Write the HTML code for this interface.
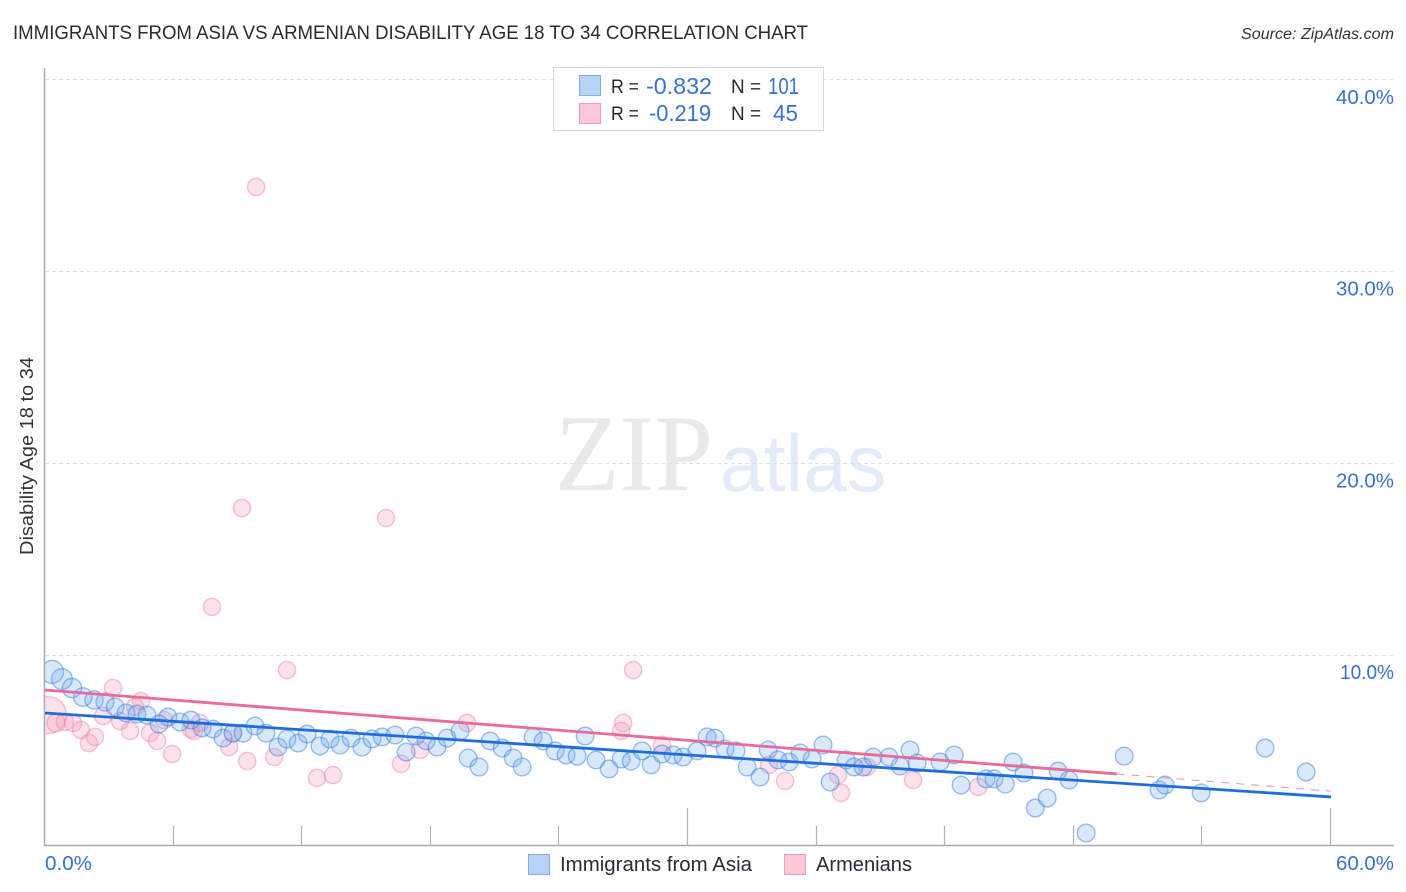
<!DOCTYPE html>
<html lang="en">
<head>
<meta charset="utf-8">
<title>Immigrants from Asia vs Armenian Disability Age 18 to 34 Correlation Chart</title>
<style>
html,body{margin:0;padding:0;background:#fff;width:1406px;height:892px;overflow:hidden}
svg{display:block;font-family:"Liberation Sans",sans-serif}
</style>
</head>
<body>
<svg id="chart" xmlns="http://www.w3.org/2000/svg" width="1406" height="892" viewBox="0 0 1406 892">
  <defs><clipPath id="plot-clip"><rect x="45" y="60" width="1349" height="786"/></clipPath></defs>
  <text x="13" y="39" font-size="19.5" fill="#2b2b2b" textLength="795" lengthAdjust="spacingAndGlyphs">IMMIGRANTS FROM ASIA VS ARMENIAN DISABILITY AGE 18 TO 34 CORRELATION CHART</text>
  <text x="1241" y="39" font-size="15.5" font-style="italic" fill="#333" textLength="153" lengthAdjust="spacingAndGlyphs">Source: ZipAtlas.com</text>

  <g>
    <text x="555" y="490" font-family="'Liberation Serif',serif" font-size="109" fill="#e9e9e9" textLength="158" lengthAdjust="spacingAndGlyphs">ZIP</text>
    <text x="720" y="491" font-size="81" fill="#e2ebf9" textLength="166" lengthAdjust="spacingAndGlyphs">atlas</text>
  </g>

  <g id="grid"></g>
  <g id="axes"></g>
  <g id="armenians-points" clip-path="url(#plot-clip)"></g>
  <g id="asia-points" clip-path="url(#plot-clip)"></g>
  <g id="trends"></g>
  <g id="labels"></g>

  <text transform="translate(33,555) rotate(-90)" font-size="18" fill="#333" textLength="198" lengthAdjust="spacingAndGlyphs">Disability Age 18 to 34</text>

  <g>
    <rect x="553.5" y="67.5" width="270" height="63" fill="#fff" stroke="#d8d8d8" stroke-width="1"/>
    <rect x="579.5" y="75.5" width="21" height="20" fill="#b9d3f6" stroke="#7fabe6"/>
    <text x="611" y="93" font-size="19.5" fill="#2b2b2b" textLength="28" lengthAdjust="spacingAndGlyphs">R =</text>
    <text x="646" y="94" font-size="23" fill="#3a70d2" textLength="66" lengthAdjust="spacingAndGlyphs">-0.832</text>
    <text x="731" y="93" font-size="19.5" fill="#2b2b2b" textLength="30" lengthAdjust="spacingAndGlyphs">N =</text>
    <text x="768" y="94" font-size="23" fill="#3a70d2" textLength="31" lengthAdjust="spacingAndGlyphs">101</text>
    <rect x="579.5" y="103.5" width="21" height="20" fill="#fcc8d8" stroke="#ee9db8"/>
    <text x="611" y="120" font-size="19.5" fill="#2b2b2b" textLength="28" lengthAdjust="spacingAndGlyphs">R =</text>
    <text x="649" y="121" font-size="23" fill="#3a70d2" textLength="62" lengthAdjust="spacingAndGlyphs">-0.219</text>
    <text x="731" y="120" font-size="19.5" fill="#2b2b2b" textLength="30" lengthAdjust="spacingAndGlyphs">N =</text>
    <text x="773" y="121" font-size="23" fill="#3a70d2" textLength="25" lengthAdjust="spacingAndGlyphs">45</text>
  </g>

  <g>
    <rect x="528.5" y="854.5" width="21" height="20" fill="#b9d3f6" stroke="#7fabe6"/>
    <text x="560" y="871" font-size="20" fill="#2b2b3b" textLength="192" lengthAdjust="spacingAndGlyphs">Immigrants from Asia</text>
    <rect x="784.5" y="854.5" width="21" height="20" fill="#fcc8d8" stroke="#ee9db8"/>
    <text x="816" y="871" font-size="20" fill="#2b2b3b" textLength="96" lengthAdjust="spacingAndGlyphs">Armenians</text>
  </g>
</svg>
<script>
const yTicks = [10, 20, 30, 40];
const yTickLabels = ["10.0%", "20.0%", "30.0%", "40.0%"];
const xTicks = [0, 6, 12, 18, 24, 30, 36, 42, 48, 54, 60];
const xMajorTicks = [30, 60];
const xEndValues = [0, 60];
const xEndLabels = ["0.0%", "60.0%"];

const asiaX = [0.33,0.79,1.26,1.77,2.29,2.80,3.27,3.78,4.29,4.76,5.74,5.32,6.30,6.81,7.33,7.84,8.31,8.77,9.24,9.80,10.31,10.87,11.29,11.81,12.23,12.83,13.30,13.77,14.28,14.79,15.26,15.73,16.33,16.85,17.31,17.78,18.29,18.76,19.37,19.74,20.25,20.77,21.33,21.84,22.26,22.77,23.24,23.80,24.31,24.83,25.20,25.71,26.32,26.88,27.35,27.86,28.28,28.79,29.31,29.77,30.42,30.89,31.26,31.73,32.24,32.76,33.36,33.74,34.20,34.72,35.23,35.79,36.30,36.63,37.38,37.75,38.17,38.64,39.38,39.90,40.36,40.69,41.76,42.42,42.74,43.91,44.28,44.80,45.17,45.68,46.20,46.76,47.27,47.78,48.58,50.35,51.98,52.26,53.94,56.93,58.84];
const asiaY = [9.09,8.72,8.25,7.78,7.63,7.52,7.26,6.95,6.90,6.84,6.74,6.37,6.48,6.58,6.17,6.11,5.64,5.90,5.90,6.27,5.90,5.17,5.59,5.38,5.85,5.23,5.59,5.28,5.64,5.17,5.59,5.70,5.80,4.91,5.75,5.49,5.17,5.64,6.01,4.60,4.13,5.49,5.12,4.60,4.13,5.70,5.49,4.97,4.76,4.70,5.75,4.50,4.03,4.55,4.44,4.97,4.24,4.81,4.76,4.65,4.97,5.70,5.64,5.07,4.97,4.13,3.61,5.02,4.50,4.39,4.86,4.55,5.28,3.35,4.50,4.13,4.13,4.65,4.65,4.18,5.02,4.34,4.39,4.76,3.19,3.51,3.51,3.24,4.39,3.82,1.99,2.51,3.92,3.45,0.69,4.70,2.93,3.19,2.78,5.12,3.87];
const asiaWeights = [1.3,1.18,1.1,1.05,1.03,1.02];

const armeniansX = [0.14,0.51,0.93,1.31,1.68,2.05,2.33,3.17,2.71,3.50,3.97,4.48,4.20,4.90,5.23,5.55,5.93,6.81,6.95,7.23,8.59,8.77,9.43,10.69,11.29,12.69,13.44,16.61,17.50,19.69,27.44,26.97,26.88,28.79,33.78,34.53,37.00,37.14,38.36,40.50,43.54,9.85,9.19,15.91,7.79];
const armeniansY = [6.84,6.43,6.48,6.43,6.06,5.38,5.70,8.25,6.79,6.53,6.01,7.57,7.26,5.90,5.49,6.58,4.81,6.11,6.01,6.43,5.17,5.90,4.44,4.65,9.19,3.56,3.71,4.29,5.02,6.43,9.19,6.43,6.01,5.28,4.24,3.40,3.71,2.78,4.13,3.45,3.09,34.39,17.64,17.12,12.48];
const armeniansWeights = [2.15,1.05];

const asiaTrendX = [0, 60];
const asiaTrendY = [6.95, 2.57];
const armeniansTrendX = [0, 50];
const armeniansTrendY = [8.15, 3.77];
const armeniansDashX = [50, 60];
const armeniansDashY = [3.77, 2.87];

const SVG_NS = "http://www.w3.org/2000/svg";
const xScale = v => 45 + v * 21.433;
const yScale = v => 846.2 - v * 19.17;
const byId = id => document.getElementById(id);

function make(tag, attrs, parent) {
  const el = document.createElementNS(SVG_NS, tag);
  for (const k in attrs) el.setAttribute(k, attrs[k]);
  parent.appendChild(el);
  return el;
}

yTicks.forEach(function (t) {
  const y = Math.round(yScale(t)) + 0.5;
  const line = make("line", {x1: 45, x2: 1394, y1: y, y2: y, stroke: "#dfdfdf", "stroke-width": 1, "stroke-dasharray": "4 3"}, byId("grid"));
  
  
});

const yAxisLine = make("line", {x1: 44.5, x2: 44.5, y1: 68, y2: 846, stroke: "#aaa", "stroke-width": 1.5}, byId("axes"));


const xAxisLine = make("line", {x1: 44, x2: 1394, y1: 845.5, y2: 845.5, stroke: "#aaa", "stroke-width": 1.5}, byId("axes"));



xTicks.forEach(function (t) {
  if (t === 0) return;
  const x = Math.round(xScale(t)) - 0.5;
  const top = xMajorTicks.indexOf(t) >= 0 ? 808 : 826;
  const tick = make("line", {x1: x, x2: x, y1: top, y2: 846, stroke: "#b4b4b4", "stroke-width": 1.2}, byId("axes"));
  
  
});

yTicks.forEach(function (t, i) {
  const label = make("text", {x: 1394, y: yScale(t) + 24.5, "font-size": 20, fill: "#3a70d2", "text-anchor": "end", textLength: t === 10 ? 54 : 58, lengthAdjust: "spacingAndGlyphs"}, byId("labels"));
  
  
  label.textContent = yTickLabels[i];
});

xEndValues.forEach(function (t, i) {
  const atEnd = t === 60;
  const label = make("text", {x: atEnd ? 1394 : 45, y: 870, "font-size": 20, fill: "#3a70d2", "text-anchor": atEnd ? "end" : "start", textLength: atEnd ? 58 : 47, lengthAdjust: "spacingAndGlyphs"}, byId("labels"));
  
  
  label.textContent = xEndLabels[i];
});

armeniansX.forEach(function (v, i) {
  const w = armeniansWeights[i] || 1;
  const c = make("circle", {cx: xScale(v), cy: yScale(armeniansY[i]), r: 8.6 * w, fill: "rgba(248,160,190,0.3)", stroke: "rgba(235,125,160,0.45)", "stroke-width": 1.4}, byId("armenians-points"));
  
  
});

asiaX.forEach(function (v, i) {
  const w = asiaWeights[i] || 1;
  const c = make("circle", {cx: xScale(v), cy: yScale(asiaY[i]), r: 8.8 * w, fill: "rgba(110,165,240,0.26)", stroke: "rgba(60,130,225,0.5)", "stroke-width": 1.4}, byId("asia-points"));
  
  
});

const armeniansDash = make("line", {x1: xScale(armeniansDashX[0]), y1: yScale(armeniansDashY[0]), x2: xScale(armeniansDashX[1]), y2: yScale(armeniansDashY[1]), stroke: "#ee8fb0", "stroke-width": 1, "stroke-dasharray": "8 7"}, byId("trends"));


const armeniansTrend = make("line", {x1: xScale(armeniansTrendX[0]), y1: yScale(armeniansTrendY[0]), x2: xScale(armeniansTrendX[1]), y2: yScale(armeniansTrendY[1]), stroke: "#ea6a99", "stroke-width": 2.8}, byId("trends"));


const asiaTrend = make("line", {x1: xScale(asiaTrendX[0]), y1: yScale(asiaTrendY[0]), x2: xScale(asiaTrendX[1]), y2: yScale(asiaTrendY[1]), stroke: "#1f6ddb", "stroke-width": 2.8}, byId("trends"));


</script>
</body>
</html>
